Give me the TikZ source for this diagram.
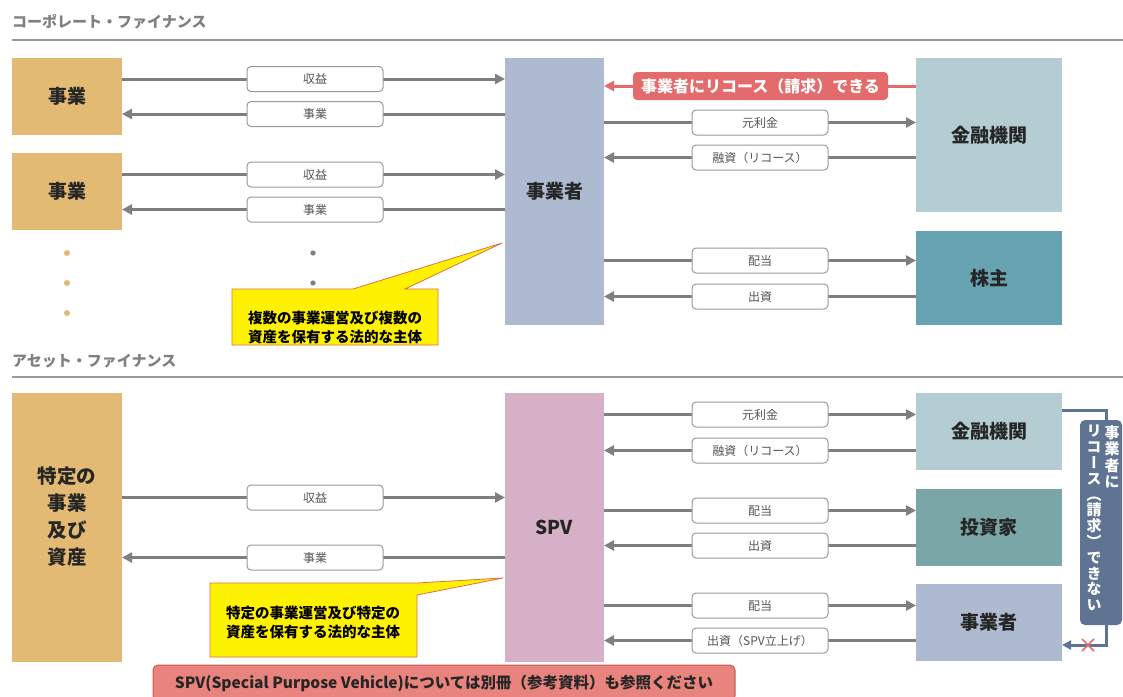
\documentclass[tikz,border=0pt]{standalone}
\usepackage{fontspec}
\setmainfont{Noto Sans CJK JP}
\newfontfamily\vfont[RawFeature=+vert]{Noto Sans CJK JP}
\usetikzlibrary{arrows.meta}
\definecolor{tanc}{HTML}{E3BA73}
\definecolor{opc}{HTML}{ADBACF}
\definecolor{finc}{HTML}{B4CDD2}
\definecolor{shc}{HTML}{67A3B1}
\definecolor{invc}{HTML}{7AA6A8}
\definecolor{spvc}{HTML}{D6B0C6}
\definecolor{redc}{HTML}{E36B6B}
\definecolor{vlabc}{HTML}{5F7392}
\definecolor{notec}{HTML}{E8837D}
\definecolor{noted}{HTML}{C55A55}
\definecolor{callc}{HTML}{E0704A}
\definecolor{arrgray}{HTML}{7F7F7F}
\definecolor{lblgray}{HTML}{9A9A9A}
\definecolor{txtgray}{HTML}{555555}
\definecolor{titlegray}{HTML}{808080}
\definecolor{rulegray}{HTML}{999999}
\begin{document}
\begin{tikzpicture}[x=1pt,y=-1pt,
  box/.style={inner sep=0pt, outer sep=0pt, font=\bfseries\fontsize{19}{22}\selectfont, text=black!85, align=center},
  boxtext/.style={inner sep=0pt, font=\bfseries\fontsize{19.5}{27}\selectfont, text=black!85, align=center},
  lbl/.style={draw=lblgray, fill=white, rounded corners=4pt, line width=1pt, minimum width=136pt, minimum height=25pt, inner sep=0pt, font=\fontsize{12}{13}\selectfont, text=txtgray},
  arr/.style={line width=3pt, draw=arrgray, -{Triangle[length=10pt,width=10pt]}},
  title/.style={anchor=west, inner sep=0pt, font=\bfseries\fontsize{15}{17}\selectfont, text=titlegray},
  calltext/.style={inner sep=0pt, align=center, font=\bfseries\fontsize{14.5}{19}\selectfont, text=black}
]
\clip (0,0) rectangle (1123,696);
\fill[white] (0,0) rectangle (1123,696);

% titles and rules
\node[title] (t1) at (12,22) {コーポレート・ファイナンス};
\draw[rulegray, line width=2.5pt] (12,40) -- (1123,40);
\node[title] (t2) at (12,361) {アセット・ファイナンス};
\draw[rulegray, line width=2.5pt] (12,377) -- (1123,377);

% ---------- top section boxes
\node[box, fill=tanc, minimum width=110pt, minimum height=77pt] (biz1) at (67,96.5) {事業};
\node[box, fill=tanc, minimum width=110pt, minimum height=77pt] (biz2) at (67,191.5) {事業};
\node[box, fill=opc, minimum width=99pt, minimum height=267pt] (op) at (554.5,191.5) {事業者};
\node[box, fill=finc, minimum width=146pt, minimum height=154pt] (fin1) at (989,135) {金融機関};
\node[box, fill=shc, minimum width=146pt, minimum height=94pt] (sh) at (989,278) {株主};

\fill[tanc] (67,253) circle (3pt) (67,283) circle (3pt) (67,313) circle (3pt);
\fill[arrgray] (313,253) circle (2.6pt) (313,283) circle (2.6pt);

% top left arrows
\draw[arr] (biz1.east |- 0,79) -- (op.west |- 0,79);
\node[lbl] (l1) at (315,79) {収益};
\draw[arr] (op.west |- 0,114) -- (biz1.east |- 0,114);
\node[lbl] (l2) at (315,114) {事業};
\draw[arr] (biz2.east |- 0,174.5) -- (op.west |- 0,174.5);
\node[lbl] (l3) at (315,174.5) {収益};
\draw[arr] (op.west |- 0,209.5) -- (biz2.east |- 0,209.5);
\node[lbl] (l4) at (315,209.5) {事業};

% top right arrows
\draw[line width=3pt, draw=redc, -{Triangle[length=10pt,width=10pt]}] (fin1.west |- 0,86) -- (op.east |- 0,86);
\node[fill=redc, rounded corners=4pt, minimum width=255pt, minimum height=28pt, inner sep=0pt, text=white, font=\bfseries\fontsize{16}{17}\selectfont] (rl) at (760.5,86) {事業者にリコース（請求）できる};
\draw[arr] (op.east |- 0,122.5) -- (fin1.west |- 0,122.5);
\node[lbl] (l5) at (760,122.5) {元利金};
\draw[arr] (fin1.west |- 0,157.5) -- (op.east |- 0,157.5);
\node[lbl] (l6) at (760,157.5) {融資（リコース）};
\draw[arr] (op.east |- 0,260.5) -- (sh.west |- 0,260.5);
\node[lbl] (l7) at (760,260.5) {配当};
\draw[arr] (sh.west |- 0,296.5) -- (op.east |- 0,296.5);
\node[lbl] (l8) at (760,296.5) {出資};

% top callout
\filldraw[fill=yellow, draw=callc, line width=0.8pt] (232,289) -- (353,289) -- (502,243) -- (405,289) -- (438,289) -- (438,345) -- (232,345) -- cycle;
\node[calltext] (c1) at (335,327) {複数の事業運営及び複数の\\資産を保有する法的な主体};

% ---------- bottom section boxes
\node[box, fill=tanc, minimum width=110pt, minimum height=269pt] (asset) at (67,527.5) {};
\node[boxtext] (assettxt) at (67,517) {特定の\\事業\\及び\\資産};
\node[box, fill=spvc, minimum width=99pt, minimum height=269pt] (spv) at (554.5,527.5) {SPV};
\node[box, fill=finc, minimum width=146pt, minimum height=77pt] (fin2) at (989,431.5) {金融機関};
\node[box, fill=invc, minimum width=146pt, minimum height=77pt] (inv) at (989,527.5) {投資家};
\node[box, fill=opc, minimum width=146pt, minimum height=77pt] (op2) at (989,622.5) {事業者};

% bottom left arrows
\draw[arr] (asset.east |- 0,497.5) -- (spv.west |- 0,497.5);
\node[lbl] (l9) at (315,497.5) {収益};
\draw[arr] (spv.west |- 0,557.5) -- (asset.east |- 0,557.5);
\node[lbl] (l10) at (315,557.5) {事業};

% bottom right arrows
\draw[arr] (spv.east |- 0,414.5) -- (fin2.west |- 0,414.5);
\node[lbl] (l11) at (760,414.5) {元利金};
\draw[arr] (fin2.west |- 0,450.5) -- (spv.east |- 0,450.5);
\node[lbl] (l12) at (760,450.5) {融資（リコース）};
\draw[arr] (spv.east |- 0,510.5) -- (inv.west |- 0,510.5);
\node[lbl] (l13) at (760,510.5) {配当};
\draw[arr] (inv.west |- 0,545.5) -- (spv.east |- 0,545.5);
\node[lbl] (l14) at (760,545.5) {出資};
\draw[arr] (spv.east |- 0,605.5) -- (op2.west |- 0,605.5);
\node[lbl] (l15) at (760,605.5) {配当};
\draw[arr] (op2.west |- 0,640.5) -- (spv.east |- 0,640.5);
\node[lbl] (l16) at (760,640.5) {出資（SPV立上げ）};

% bottom callout
\filldraw[fill=yellow, draw=callc, line width=0.8pt] (210,583) -- (417,583) -- (503,578) -- (417,595) -- (417,657) -- (210,657) -- cycle;
\node[calltext] (c2) at (313,622) {特定の事業運営及び特定の\\資産を保有する法的な主体};

% no-recourse connector
\coordinate (vr1) at (1106,410);
\coordinate (vr2) at (1106,645);
\draw[vlabc, line width=3pt, -{Triangle[length=9pt,width=9pt]}] (fin2.east |- vr1) -- (vr1) -- (vr2) -- (op2.east |- vr2);
\draw[redc, line width=1.6pt] (1082,639) -- (1094,651) (1082,651) -- (1094,639);
\node[fill=vlabc, rounded corners=5pt, minimum width=42pt, minimum height=205pt, inner sep=0pt] (vl) at (1101,522.5) {};
\node[anchor=north, inner sep=0pt, align=center, text=white, font=\vfont\bfseries\fontsize{15}{16.5}\selectfont] (vc1) at (1112,425) {事\\業\\者\\に};
\node[anchor=north, inner sep=0pt, align=center, text=white, font=\vfont\bfseries\fontsize{15}{15.8}\selectfont] (vc2) at (1094,425) {リ\\コ\\ー\\ス\\（\\請\\求\\）\\で\\き\\な\\い};

% bottom note
\node[fill=notec, draw=noted, line width=1pt, rounded corners=5pt, minimum width=582pt, minimum height=36pt, inner sep=0pt, text=black!85, font=\bfseries\fontsize{15.5}{17}\selectfont] (note) at (444,683) {SPV(Special Purpose Vehicle)については別冊（参考資料）も参照ください};
\end{tikzpicture}
\end{document}
